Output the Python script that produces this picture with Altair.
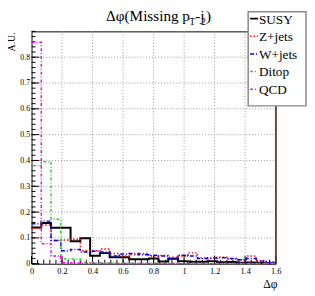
import altair as alt
import pandas as pd

# ---- data ----
edges = [round(i * 0.064, 3) for i in range(26)]  # 25 bins from 0 to 1.6
names = ["SUSY", "Z+jets", "W+jets", "Ditop", "QCD"]
susy = [0.140, 0.158, 0.139, 0.139, 0.087, 0.099, 0.031, 0.041, 0.025, 0.025, 0.017, 0.017, 0.020,
        0.009, 0.019, 0.010, 0.008, 0.008, 0.010, 0.006, 0.007, 0.004, 0.005, 0.003, 0.002]
zjets = [0.137, 0.150, 0.090, 0.092, 0.095, 0.050, 0.050, 0.057, 0.040, 0.030, 0.035, 0.040, 0.030,
         0.032, 0.025, 0.030, 0.042, 0.022, 0.020, 0.025, 0.018, 0.015, 0.030, 0.012, 0.008]
wjets = [0.155, 0.165, 0.090, 0.050, 0.055, 0.045, 0.048, 0.045, 0.030, 0.038, 0.040, 0.035, 0.033,
         0.030, 0.020, 0.033, 0.030, 0.020, 0.022, 0.023, 0.020, 0.015, 0.020, 0.010, 0.005]
ditop = [0.380, 0.395, 0.172, 0.018, 0.018, 0.006, 0.004, 0.003, 0.003, 0.002, 0.002, 0.002, 0.002,
         0.001, 0.001, 0.001, 0.001, 0.001, 0.001, 0.001, 0.001, 0.001, 0.001, 0.001, 0.001]
qcd = [0.858, 0.077, 0.030, 0.004, 0.003, 0.002, 0.002, 0.002, 0.001, 0.001, 0.001, 0.001, 0.001,
       0.001, 0.001, 0.001, 0.001, 0.001, 0.001, 0.001, 0.001, 0.001, 0.001, 0.001, 0.001]
x_ticks = [0, 0.2, 0.4, 0.6, 0.8, 1, 1.2, 1.4, 1.6]
y_ticks = [0, 0.1, 0.2, 0.3, 0.4, 0.5, 0.6, 0.7, 0.8]
x_minor = [round(i * 0.04, 2) for i in range(41)]
y_minor = [round(i * 0.02, 2) for i in range(46)]

series_vals = [susy, zjets, wjets, ditop, qcd]
colors = ["#000000", "#ff0000", "#0000ff", "#33cc33", "#ff00ff"]
dashes = [[1, 0], [1.5, 2], [4, 2, 1, 2], [3, 2, 1, 2], [3, 2, 1, 2]]
widths = [2, 1.5, 1.5, 1.5, 1.5]

rows = []
for nm, vals in zip(names, series_vals):
    for i in range(25):
        rows.append({"series": nm, "x": edges[i], "y": vals[i], "o": i})
    rows.append({"series": nm, "x": edges[25], "y": vals[24], "o": 25})
df = pd.DataFrame(rows)

W, H = 249, 237
FONT = "Liberation Serif"
xs = alt.Scale(domain=[0, 1.6], nice=False, zero=False)
ys = alt.Scale(domain=[0, 0.9], nice=False, zero=False)
xa = alt.Axis(values=x_ticks, title=None, ticks=False, domain=False, grid=False, labelFont=FONT,
              labelFontSize=8.5, labelColor="#000", labelPadding=3, labelFlush=False,
              labelExpr="format(datum.value, '~g')")
ya = alt.Axis(values=y_ticks, title=None, ticks=False, domain=False, grid=False, labelFont=FONT,
              labelFontSize=8, labelColor="#000", labelPadding=2, labelFlush=False,
              labelExpr="format(datum.value, '~g')")

layers = []
grid_x = alt.Chart(pd.DataFrame({"v": x_ticks})).mark_rule(
    color="#999999", strokeDash=[1, 2], strokeWidth=1).encode(
    x=alt.X("v:Q", scale=xs, axis=xa), y=alt.value(0), y2=alt.value(H))
grid_y = alt.Chart(pd.DataFrame({"v": y_ticks[1:]})).mark_rule(
    color="#999999", strokeDash=[1, 2], strokeWidth=1).encode(
    y=alt.Y("v:Q", scale=ys, axis=ya), x=alt.value(0), x2=alt.value(W))
layers += [grid_x, grid_y]

# tick marks (inside)
layers.append(alt.Chart(pd.DataFrame({"v": y_minor})).mark_rule(color="#000", strokeWidth=1).encode(
    y=alt.Y("v:Q", scale=ys, axis=ya), x=alt.value(0), x2=alt.value(4)))
layers.append(alt.Chart(pd.DataFrame({"v": y_ticks})).mark_rule(color="#000", strokeWidth=1).encode(
    y=alt.Y("v:Q", scale=ys, axis=ya), x=alt.value(0), x2=alt.value(8)))
layers.append(alt.Chart(pd.DataFrame({"v": x_minor})).mark_rule(color="#000", strokeWidth=1).encode(
    x=alt.X("v:Q", scale=xs, axis=xa), y=alt.value(H), y2=alt.value(H - 4)))
layers.append(alt.Chart(pd.DataFrame({"v": x_ticks})).mark_rule(color="#000", strokeWidth=1).encode(
    x=alt.X("v:Q", scale=xs, axis=xa), y=alt.value(H), y2=alt.value(H - 8)))

# histograms
for nm, c, d, w in zip(names, colors, dashes, widths):
    layers.append(alt.Chart(df).transform_filter(alt.datum.series == nm).mark_line(
        interpolate="step-after", color=c, strokeDash=d, strokeWidth=w).encode(
        x=alt.X("x:Q", scale=xs, axis=xa), y=alt.Y("y:Q", scale=ys, axis=ya), order="o:Q"))

dummy = alt.Data(values=[{"a": 1}])
# right frame edge (red)
layers.append(alt.Chart(dummy).mark_rule(color="#cc0000", strokeWidth=1).encode(
    x=alt.value(W), y=alt.value(0), y2=alt.value(H)))

def txt(s, x, y, size, **kw):
    return alt.Chart(dummy).mark_text(text=s, font=FONT, fontSize=size, align="left",
                                      baseline="alphabetic", color="#000", **kw).encode(
        x=alt.value(x), y=alt.value(y))

# title pieces
layers.append(txt("Δφ(Missing p", 76, -11, 15.5))
layers.append(txt("T", 161, -7, 10))
layers.append(txt("-j", 167, -11, 15.5))
layers.append(txt("2", 173, -7, 10))
layers.append(txt(")", 178, -11, 15.5))

# axis titles
layers.append(alt.Chart(dummy).mark_text(text="A.U.", font=FONT, fontSize=10, angle=270, align="right",
                                         baseline="middle", color="#000").encode(
    x=alt.value(-20), y=alt.value(1)))
layers.append(alt.Chart(dummy).mark_text(text="Δφ", font=FONT, fontSize=12, align="right",
                                         baseline="alphabetic", color="#000").encode(
    x=alt.value(251), y=alt.value(262)))

# legend
LX0, LX1, LY0, LY1 = 221, 280, -20, 76
layers.append(alt.Chart(dummy).mark_rect(fill="white", stroke="#888888", strokeWidth=1.5).encode(
    x=alt.value(LX0), x2=alt.value(LX1), y=alt.value(LY0), y2=alt.value(LY1)))
for i, (nm, c, d, w) in enumerate(zip(names, colors, dashes, widths)):
    yy = -13 + i * 18
    layers.append(alt.Chart(dummy).mark_rule(color=c, strokeDash=d, strokeWidth=w).encode(
        x=alt.value(LX0 + 2), x2=alt.value(LX0 + 10), y=alt.value(yy)))
    layers.append(alt.Chart(dummy).mark_text(text=nm, font=FONT, fontSize=13.5, align="left",
                                             baseline="middle", color="#000").encode(
        x=alt.value(LX0 + 11), y=alt.value(yy + 1)))

chart = alt.layer(*layers).properties(
    width=W, height=H,
    autosize=alt.AutoSizeParams(type="none"),
    padding={"left": 24, "top": 21, "right": 32, "bottom": 26},
).configure_view(stroke="#000", strokeWidth=1)

chart.save("out.html", embed_options={"renderer": "svg", "actions": False})
